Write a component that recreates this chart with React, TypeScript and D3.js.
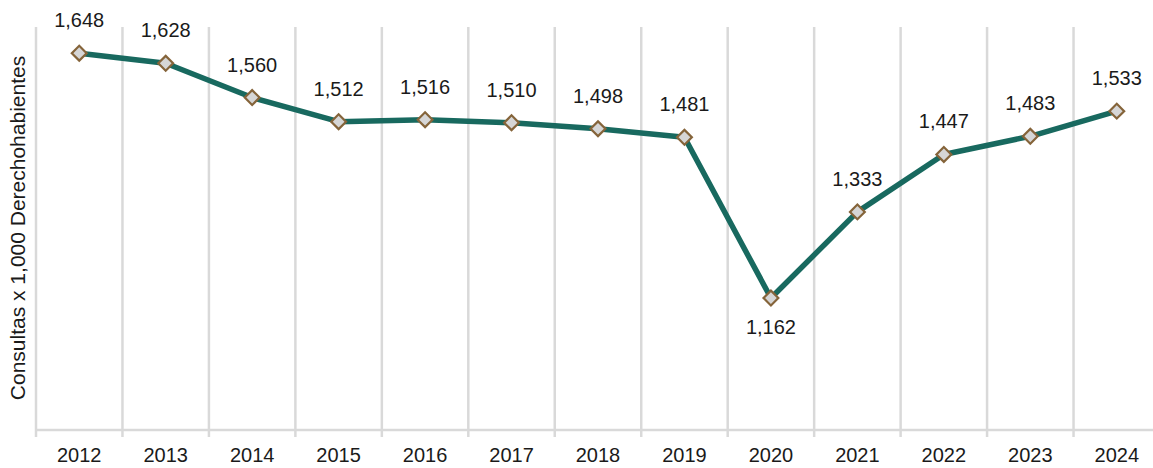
import { useRef, useEffect } from 'react';
import * as d3 from 'd3';

const years = ['2012', '2013', '2014', '2015', '2016', '2017', '2018', '2019', '2020', '2021', '2022', '2023', '2024'];
const consultas = [1648, 1628, 1560, 1512, 1516, 1510, 1498, 1481, 1162, 1333, 1447, 1483, 1533];
const yDomain = [900, 1700];

export default function App() {
  const ref = useRef<SVGSVGElement | null>(null);

  useEffect(() => {
    const W = 1153, H = 468;
    const left = 36, right = 1160, top = 27, bottom = 430;
    const font = 'Liberation Sans, Arial, sans-serif';
    const svg = d3.select(ref.current);
    svg.selectAll('*').remove();

    const x = d3.scaleBand().domain(years).range([left, right]);
    const y = d3.scaleLinear().domain(yDomain).range([bottom, top]);
    const bounds = years.map(d => x(d)!).concat([right]);

    // vertical gridlines at category boundaries
    svg.append('g').selectAll('line').data(bounds).join('line')
      .attr('x1', d => d).attr('x2', d => d)
      .attr('y1', top).attr('y2', bottom + 7)
      .attr('stroke', '#d9d9d9').attr('stroke-width', 2.5);

    svg.append('line')
      .attr('x1', left).attr('x2', right).attr('y1', bottom).attr('y2', bottom)
      .attr('stroke', '#d9d9d9').attr('stroke-width', 2.5);

    svg.append('g').selectAll('text').data(years).join('text')
      .attr('x', d => x(d)! + x.bandwidth() / 2)
      .attr('y', 462)
      .attr('text-anchor', 'middle')
      .attr('font-family', font)
      .attr('font-size', 20).attr('fill', '#1a1a1a')
      .text(d => d);

    svg.append('text')
      .attr('transform', `translate(25,228) rotate(-90)`)
      .attr('text-anchor', 'middle')
      .attr('font-family', font)
      .attr('font-size', 21).attr('fill', '#1a1a1a')
      .text('Consultas x 1,000 Derechohabientes');

    const cx = (i: number) => x(years[i])! + x.bandwidth() / 2;
    const line = d3.line<number>().x((_, i) => cx(i)).y(d => y(d));
    svg.append('path').datum(consultas)
      .attr('d', line)
      .attr('fill', 'none').attr('stroke', '#18695f').attr('stroke-width', 5.5)
      .attr('stroke-linejoin', 'round');

    const sym = d3.symbol().type(d3.symbolSquare).size(110);
    svg.append('g').selectAll('path').data(consultas).join('path')
      .attr('d', sym)
      .attr('transform', (d, i) => `translate(${cx(i)},${y(d)}) rotate(45)`)
      .attr('fill', '#d6d6d6').attr('stroke', '#85643a').attr('stroke-width', 2.2);

    const fmt = d3.format(',');
    svg.append('g').selectAll('text').data(consultas).join('text')
      .attr('x', (_, i) => cx(i))
      .attr('y', (d, i) => i === 8 ? y(d) + 36 : y(d) - 26)
      .attr('text-anchor', 'middle')
      .attr('font-family', font)
      .attr('font-size', 20).attr('fill', '#1a1a1a')
      .text(d => fmt(d));

    svg.attr('width', W).attr('height', H);
  }, []);

  return <svg ref={ref} style={{ position: 'absolute', left: 0, top: 0, background: '#fff' }} />;
}
